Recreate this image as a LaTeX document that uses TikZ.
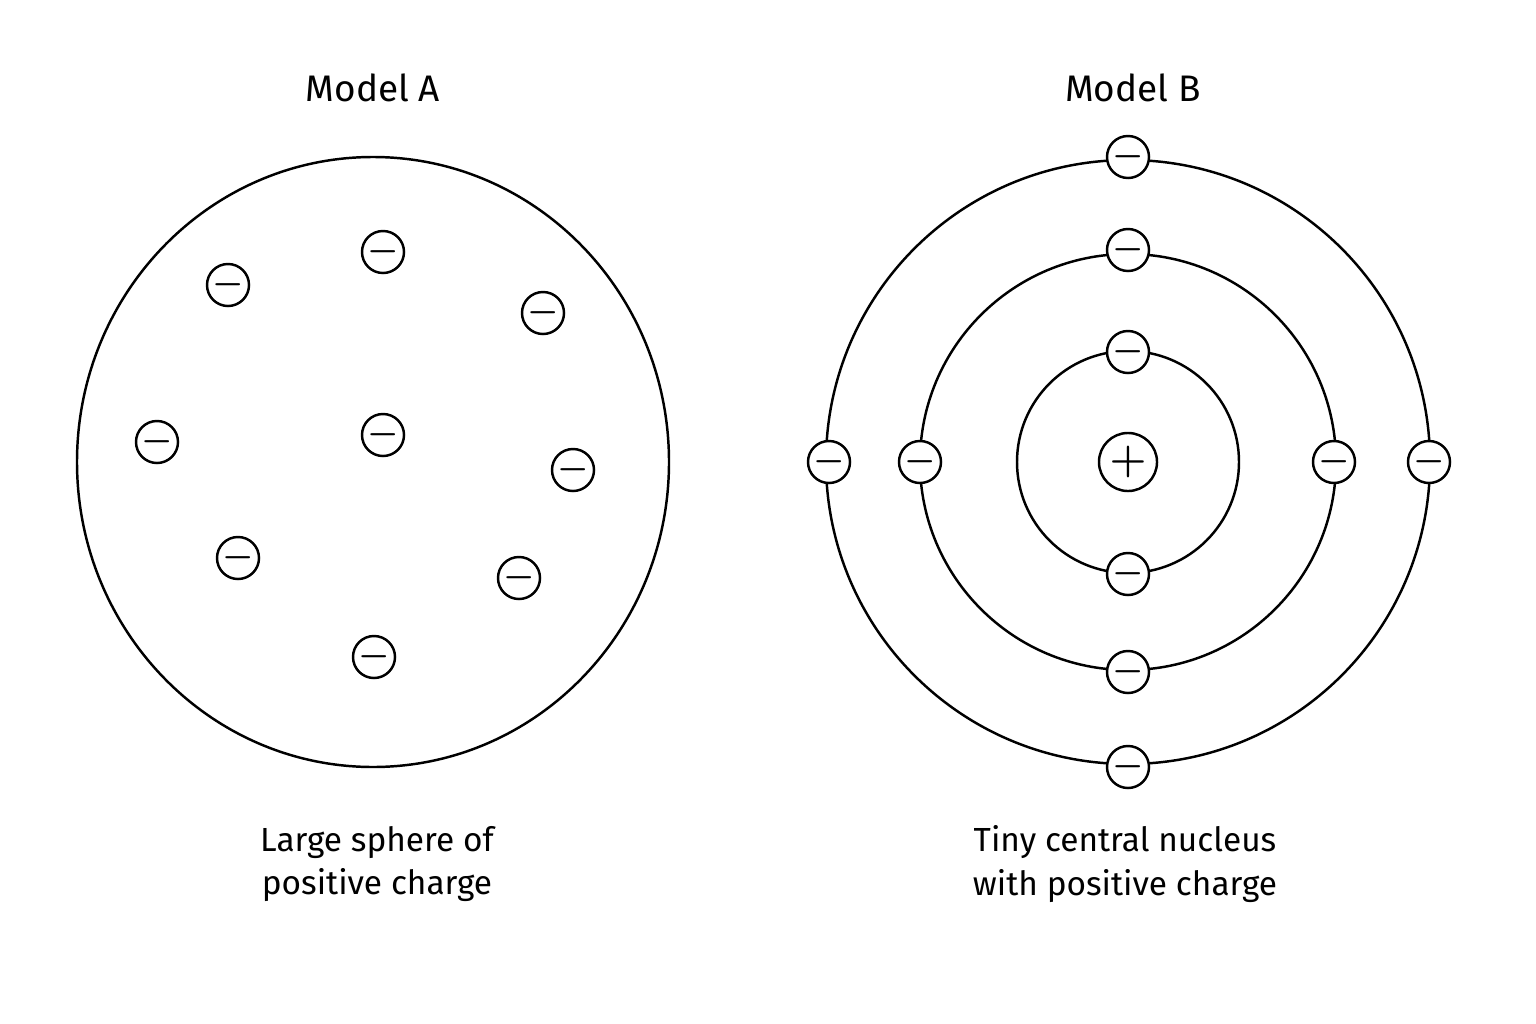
\documentclass[tikz,border=0pt]{standalone}
\usepackage{fontspec}
\setmainfont{Fira Sans}
\begin{document}
\begin{tikzpicture}[x=0.01cm,y=-0.01cm,line width=0.7pt,
  elec/.style={circle,draw,fill=white,minimum size=0.42cm,inner sep=0pt,font=\fontsize{10}{10}\selectfont\boldmath},
  nuc/.style={circle,draw,fill=white,minimum size=0.58cm,inner sep=0pt,font=\fontsize{13}{13}\selectfont\boldmath},
  title/.style={font=\fontsize{10.5}{12}\selectfont},
  caption/.style={font=\fontsize{9.5}{12.3}\selectfont,align=center}]
\useasboundingbox (0,0) rectangle (1536,1024);
\coordinate (ca) at (373,462);
\coordinate (cb) at (1128,462);

% model A
\node[title] (ta) at (373,88) {Model A};
\draw (ca) ellipse (296 and 305);
\node[elec] (a1) at (383,252) {$-$};
\node[elec] (a2) at (228,285) {$-$};
\node[elec] (a3) at (543,313) {$-$};
\node[elec] (a4) at (157,442) {$-$};
\node[elec] (a5) at (383,435) {$-$};
\node[elec] (a6) at (573,470) {$-$};
\node[elec] (a7) at (238,558) {$-$};
\node[elec] (a8) at (519,578) {$-$};
\node[elec] (a9) at (374,657) {$-$};
\node[caption] (la) at (377,864) {Large sphere of\\positive charge};

% model B
\node[title] (tb) at (1133,88) {Model B};
\draw (cb) circle (111);
\draw (cb) circle (208);
\draw (cb) circle (302);
\node[nuc] (n) at (cb) {$+$};
\node[elec] (b1) at (1128,352) {$-$};
\node[elec] (b2) at (1128,574) {$-$};
\node[elec] (b3) at (1128,250) {$-$};
\node[elec] (b4) at (1128,672) {$-$};
\node[elec] (b5) at (920,462) {$-$};
\node[elec] (b6) at (1334,462) {$-$};
\node[elec] (b7) at (1128,157) {$-$};
\node[elec] (b8) at (1128,767) {$-$};
\node[elec] (b9) at (829,462) {$-$};
\node[elec] (b10) at (1429,462) {$-$};
\node[caption] (lb) at (1125,864) {Tiny central nucleus\\with positive charge};
\end{tikzpicture}
\end{document}
